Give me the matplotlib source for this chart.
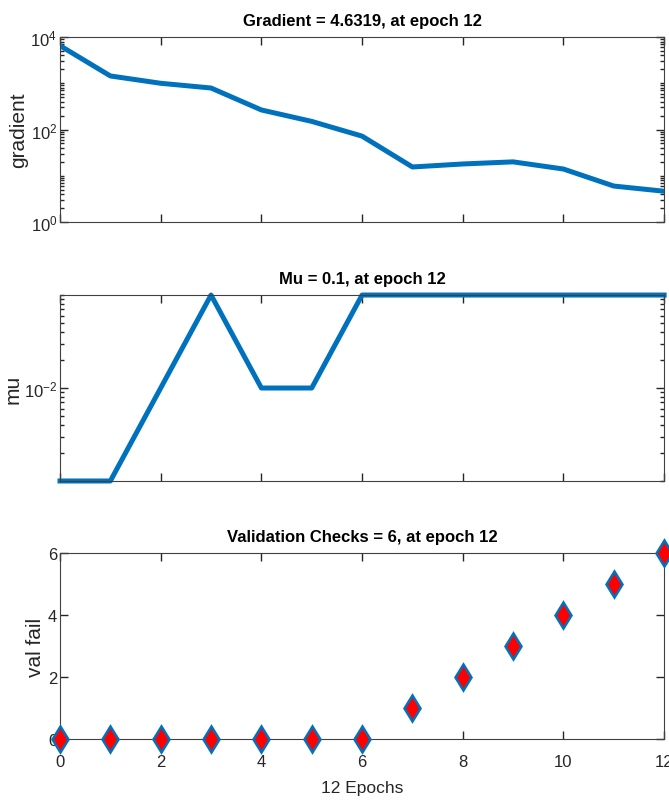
import numpy as np
import matplotlib
matplotlib.use("Agg")
import matplotlib.pyplot as plt
from matplotlib.ticker import LogLocator, FixedLocator, NullFormatter

epochs = list(range(13))
gradient = [6500, 1440, 1000, 790, 265, 150, 72, 15.5, 18, 20, 14, 6.0, 4.6319]
mu = [0.001, 0.001, 0.01, 0.1, 0.01, 0.01, 0.1, 0.1, 0.1, 0.1, 0.1, 0.1, 0.1]
val_fail = [0, 0, 0, 0, 0, 0, 0, 1, 2, 3, 4, 5, 6]

blue = (0.0, 0.447, 0.741)
plt.rcParams['font.family'] = ['Liberation Sans', 'DejaVu Sans']
plt.rcParams['mathtext.fontset'] = 'custom'
plt.rcParams['mathtext.rm'] = 'Liberation Sans'
plt.rcParams['mathtext.default'] = 'regular'

fig = plt.figure(figsize=(6.69, 8.04), dpi=100)
left, width = 0.0897, 0.903
ax1 = fig.add_axes([left, 0.7226, width, 0.2301])
ax2 = fig.add_axes([left, 0.4005, width, 0.2313])
ax3 = fig.add_axes([left, 0.0796, width, 0.2313])

def style(ax):
    ax.set_xlim(0, 12)
    ax.set_xticks(range(0, 13, 2))
    ax.tick_params(which='both', direction='in', top=True, right=True,
                   colors='#262626', labelsize=12)
    ax.tick_params(which='major', length=6, width=1, pad=2)
    ax.tick_params(which='minor', length=3, width=1)
    for s in ax.spines.values():
        s.set_color('#404040')

title_kw = dict(fontsize=12, fontweight='bold', pad=9)
label_kw = dict(fontsize=15, color='#262626')

# gradient
ax1.semilogy(epochs, gradient, color=blue, lw=3.6)
ax1.set_ylim(1, 1e4)
ax1.yaxis.set_major_locator(FixedLocator([1, 100, 1e4]))
ax1.yaxis.set_minor_locator(LogLocator(base=10, subs=np.arange(1, 10), numticks=20))
ax1.yaxis.set_minor_formatter(NullFormatter())
ax1.set_ylabel('gradient', labelpad=2, **label_kw)
ax1.set_title('Gradient = 4.6319, at epoch 12', **title_kw)
style(ax1)
ax1.set_xticklabels([])

# mu
ax2.semilogy(epochs, mu, color=blue, lw=3.6, clip_on=False)
ax2.set_ylim(0.001, 0.1)
ax2.yaxis.set_major_locator(FixedLocator([0.01]))
ax2.yaxis.set_minor_locator(LogLocator(base=10, subs=np.arange(1, 10), numticks=20))
ax2.yaxis.set_minor_formatter(NullFormatter())
ax2.set_ylabel('mu', labelpad=1, **label_kw)
ax2.set_title('Mu = 0.1, at epoch 12', **title_kw)
style(ax2)
ax2.set_xticklabels([])

# validation checks
ax3.plot(epochs, val_fail, linestyle='none', marker='d', markersize=13,
         markerfacecolor='red', markeredgecolor=blue, markeredgewidth=1.8,
         clip_on=False, zorder=5)
ax3.set_ylim(0, 6)
ax3.set_yticks([0, 2, 4, 6])
ax3.set_ylabel('val fail', labelpad=2, **label_kw)
ax3.set_xlabel('12 Epochs', labelpad=8, fontsize=12.5, color='#262626')
ax3.set_title('Validation Checks = 6, at epoch 12', **title_kw)
style(ax3)
ax3.tick_params(axis='x', which='major', pad=11)

fig.savefig('out.png', dpi=100)
